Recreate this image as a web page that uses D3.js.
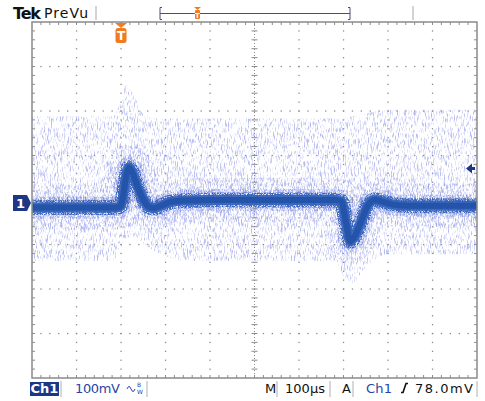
<!DOCTYPE html>
<html><head><meta charset="utf-8">
<script src="https://cdn.jsdelivr.net/npm/d3@7"></script>
<style>html,body{margin:0;padding:0;background:#fff;} svg{display:block;}</style>
</head><body>
<svg id="scope" width="485" height="401"></svg>
<script>
// Ch1 mean trace: time from trigger (µs) and level (mV)
const traceTime  = [-200, -100, -20, -5, 0, 7, 13, 18, 24, 36, 50, 62, 74, 90, 110, 140, 200, 400, 480, 495, 505, 515, 525, 540, 555, 570, 585, 610, 650, 800];
const traceLevel = [ -10,  -10, -10, -9, -5, 30, 68, 80, 72, 40,  8, -8, -11, -6,  2,   6,   7,   7,   7,   4, -40, -86, -75, -40,  -5,   7,   4,  -3,  -6,  -6];

// persistence cloud extent (mV)
const hazeTime  = [-200, -20,   0,  12,  30,  50,  80,  150, 480, 505, 520, 545, 600, 800];
const hazeUpper = [ 195, 195, 230, 265, 240, 200, 190,  190, 190, 192, 195, 200, 210, 210];
const hazeLower = [-130,-130,-100, -80, -75, -90,-110, -130,-130,-170,-180,-150,-115,-115];

// readouts
const ch1Name = "Ch1";
const voltsPerDiv = "100mV";
const timePerDiv = "100µs";
const triggerSource = "Ch1";
const triggerLevelText = "78.0mV";
const triggerLevel = 78;      // mV
const horizDivs = 10, vertDivs = 8, minorPerDiv = 5;

const svg = d3.select("#scope");
const L = 32, R = 477, T = 22, B = 378;
const x = d3.scaleLinear().domain([-200, 800]).range([L, R]);
const y = d3.scaleLinear().domain([-393, 407]).range([B, T]);
const divW = (R - L) / horizDivs, divH = (B - T) / vertDivs;

const defs = svg.append("defs");
function speckle(id, seed, freq, gain, bias, rgb) {
  const f = defs.append("filter").attr("id", id)
    .attr("filterUnits", "userSpaceOnUse").attr("x", 0).attr("y", 0)
    .attr("width", 485).attr("height", 401)
    .attr("color-interpolation-filters", "sRGB");
  f.append("feTurbulence").attr("type", "fractalNoise")
    .attr("baseFrequency", freq).attr("numOctaves", 2).attr("seed", seed).attr("result", "n");
  f.append("feColorMatrix").attr("in", "n").attr("type", "matrix")
    .attr("values", `0 0 0 0 ${rgb[0]}  0 0 0 0 ${rgb[1]}  0 0 0 0 ${rgb[2]}  ${gain} 0 0 0 ${bias}`)
    .attr("result", "dots");
  f.append("feComposite").attr("in", "dots").attr("in2", "SourceGraphic").attr("operator", "in");
}
speckle("hazeA", 7, "1.3 0.18", 4, -2.0, [0.6, 0.63, 0.92]);
speckle("hazeB", 19, "1.4 0.3", 4, -1.95, [0.56, 0.6, 0.91]);
speckle("hazeC", 31, "1.5 0.5", 4, -1.7, [0.45, 0.52, 0.88]);
speckle("edge", 43, "1.2 0.9", 5, -1.9, [0.17, 0.36, 0.72]);
defs.append("clipPath").attr("id", "screen").append("rect")
  .attr("x", L).attr("y", T).attr("width", R - L).attr("height", B - T);

// ---- graticule ----
const grid = svg.append("g");
const dot = (gx, gy) => grid.append("rect").attr("x", gx - 0.6).attr("y", gy - 0.6)
  .attr("width", 1.3).attr("height", 1.3).attr("fill", "#8c8c8c");
for (let k = 1; k < horizDivs; k++) {
  if (k === horizDivs / 2) continue;
  for (let j = 1; j < vertDivs * minorPerDiv; j++) dot(L + k * divW, T + j * divH / minorPerDiv);
}
for (let k = 1; k < vertDivs; k++) {
  if (k === vertDivs / 2) continue;
  for (let j = 1; j < horizDivs * minorPerDiv; j++) dot(L + j * divW / minorPerDiv, T + k * divH);
}
const cx = L + divW * horizDivs / 2, cy = T + divH * vertDivs / 2;
grid.append("line").attr("x1", cx).attr("x2", cx).attr("y1", T).attr("y2", B)
  .attr("stroke", "#8c8c8c").attr("stroke-width", 1).attr("stroke-dasharray", "1,2");
grid.append("line").attr("x1", L).attr("x2", R).attr("y1", cy).attr("y2", cy)
  .attr("stroke", "#8c8c8c").attr("stroke-width", 1).attr("stroke-dasharray", "1,2");
for (let j = 1; j < vertDivs * minorPerDiv; j++) {
  const gy = T + j * divH / minorPerDiv;
  grid.append("line").attr("x1", cx - 3).attr("x2", cx + 3).attr("y1", gy).attr("y2", gy).attr("stroke", "#8c8c8c");
  grid.append("line").attr("x1", L).attr("x2", L + 3).attr("y1", gy).attr("y2", gy).attr("stroke", "#8c8c8c");
  grid.append("line").attr("x1", R - 3).attr("x2", R).attr("y1", gy).attr("y2", gy).attr("stroke", "#8c8c8c");
}
for (let j = 1; j < horizDivs * minorPerDiv; j++) {
  const gx = L + j * divW / minorPerDiv;
  grid.append("line").attr("x1", gx).attr("x2", gx).attr("y1", cy - 3).attr("y2", cy + 3).attr("stroke", "#8c8c8c");
  grid.append("line").attr("x1", gx).attr("x2", gx).attr("y1", T).attr("y2", T + 3).attr("stroke", "#8c8c8c");
  grid.append("line").attr("x1", gx).attr("x2", gx).attr("y1", B - 3).attr("y2", B).attr("stroke", "#8c8c8c");
}

// ---- waveform ----
const wave = svg.append("g").attr("clip-path", "url(#screen)");
const hazeData = hazeTime.map((t, i) => ({ t, hi: hazeUpper[i], lo: hazeLower[i] }));
const hazeArea = d3.area().x(d => x(d.t)).y0(d => y(d.lo)).y1(d => y(d.hi)).curve(d3.curveMonotoneX);
wave.append("path").datum(hazeData).attr("d", hazeArea)
  .attr("fill", "#000").attr("fill-opacity", 0.7).attr("filter", "url(#hazeA)");

const traceData = traceTime.map((t, i) => ({ t, v: traceLevel[i] }));
const traceLine = d3.line().x(d => x(d.t)).y(d => y(d.v)).curve(d3.curveMonotoneX);
const stroke = (w, col, op, filt) => {
  const p = wave.append("path").datum(traceData).attr("d", traceLine).attr("fill", "none")
    .attr("stroke", col).attr("stroke-width", w).attr("stroke-opacity", op).attr("stroke-linejoin", "round");
  if (filt) p.attr("filter", `url(#${filt})`);
};
stroke(44, "#000", 0.6, "hazeB");
stroke(22, "#000", 0.65, "hazeC");
stroke(15, "#000", 0.9, "edge");
stroke(10, "#3462b8", 0.9);
stroke(6, "#2453aa", 1);

// frame
svg.append("rect").attr("x", L).attr("y", T).attr("width", R - L).attr("height", B - T)
  .attr("fill", "none").attr("stroke", "#8a8a8a").attr("stroke-width", 1.5);

// ---- markers ----
const navy = "#1d3787", orange = "#f07c22";
const gy0 = y(0);
svg.append("path").attr("d", `M13,${gy0 - 8} L27,${gy0 - 8} L31,${gy0} L27,${gy0 + 8} L13,${gy0 + 8} Z`).attr("fill", navy);
svg.append("text").attr("x", 20.5).attr("y", gy0 + 5).attr("text-anchor", "middle")
  .attr("font-family", "DejaVu Sans").attr("font-weight", "bold").attr("font-size", 13).attr("fill", "#fff").text("1");
const gyT = y(triggerLevel);
svg.append("path").attr("d", `M466,${gyT} L472,${gyT - 5} L472,${gyT - 1.5} L475,${gyT - 1.5} L475,${gyT + 1.5} L472,${gyT + 1.5} L472,${gyT + 5} Z`).attr("fill", navy);

const tx = x(0);
svg.append("path").attr("d", `M${tx - 6},23 L${tx + 6},23 L${tx},28 Z`).attr("fill", orange);
svg.append("rect").attr("x", tx - 5.5).attr("y", 28).attr("width", 11).attr("height", 15).attr("rx", 2.5).attr("fill", orange);
svg.append("text").attr("x", tx).attr("y", 40).attr("text-anchor", "middle")
  .attr("font-family", "DejaVu Sans").attr("font-weight", "bold").attr("font-size", 12).attr("fill", "#fff").text("T");

// ---- top bar ----
svg.append("text").attr("x", 13).attr("y", 19).attr("font-family", "DejaVu Sans").attr("font-weight", "bold")
  .attr("font-size", 16).attr("textLength", 28).attr("fill", "#111").text("Tek");
svg.append("text").attr("x", 44).attr("y", 18).attr("font-family", "DejaVu Sans")
  .attr("font-size", 14).attr("textLength", 44).attr("fill", "#111").text("PreVu");
[96, 413].forEach(sx => svg.append("line").attr("x1", sx).attr("x2", sx).attr("y1", 6).attr("y2", 20)
  .attr("stroke", "#c4c4c4").attr("stroke-width", 1.5));
const rec = svg.append("g").attr("stroke", "#4a4f70").attr("stroke-width", 1).attr("fill", "none");
rec.append("line").attr("x1", 160).attr("x2", 350).attr("y1", 13.5).attr("y2", 13.5);
rec.append("path").attr("d", "M162,7.5 L160,7.5 L160,19.5 L162,19.5");
rec.append("path").attr("d", "M348,7.5 L350,7.5 L350,19.5 L348,19.5");
svg.append("path").attr("d", "M194,7 L201,7 L197.5,10 Z").attr("fill", orange);
svg.append("rect").attr("x", 195).attr("y", 10).attr("width", 5).attr("height", 9).attr("rx", 1).attr("fill", orange);
svg.append("text").attr("x", 197.5).attr("y", 18).attr("text-anchor", "middle").attr("font-family", "DejaVu Sans")
  .attr("font-weight", "bold").attr("font-size", 7).attr("fill", "#fff").text("T");

// ---- bottom readout ----
const base = 393;
svg.append("rect").attr("x", 30).attr("y", 382).attr("width", 29).attr("height", 14).attr("fill", navy);
svg.append("text").attr("x", 44.5).attr("y", base).attr("text-anchor", "middle").attr("font-family", "DejaVu Sans")
  .attr("font-weight", "bold").attr("font-size", 13).attr("fill", "#fff").text(ch1Name);
[61, 147, 277, 330, 353, 477].forEach(sx => svg.append("line").attr("x1", sx).attr("x2", sx).attr("y1", 381).attr("y2", 397)
  .attr("stroke", "#b0b0b0").attr("stroke-width", 1));
const txt = (tx0, s, len, col) => svg.append("text").attr("x", tx0).attr("y", base).attr("font-family", "DejaVu Sans")
  .attr("font-size", 13).attr("textLength", len).attr("lengthAdjust", "spacing").attr("fill", col).text(s);
txt(75, voltsPerDiv, 45, "#2a44a6");
// bandwidth glyph
svg.append("path").attr("d", "M127,389 q2,-5 4,0 t4,0").attr("fill", "none").attr("stroke", "#2a44a6").attr("stroke-width", 1);
svg.append("text").attr("x", 137).attr("y", 387).attr("font-family", "DejaVu Sans").attr("font-size", 6).attr("fill", "#2a44a6").text("B");
svg.append("text").attr("x", 137).attr("y", 394).attr("font-family", "DejaVu Sans").attr("font-size", 6).attr("fill", "#2a44a6").text("W");
txt(265, "M", 10, "#111");
txt(285, timePerDiv, 40, "#111");
txt(342, "A", 9, "#111");
txt(366, triggerSource, 26, "#2a44a6");
svg.append("path").attr("d", "M401,392.5 L403,392.5 L406,383.5 L408,383.5").attr("fill", "none").attr("stroke", "#111").attr("stroke-width", 1.6);
txt(415, triggerLevelText, 58, "#111");
</script>
</body></html>
